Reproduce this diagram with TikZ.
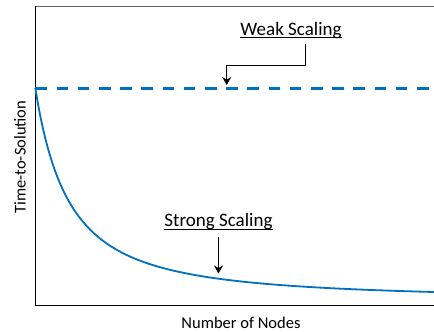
\documentclass[tikz,border=0pt]{standalone}
\usepackage{fontspec}
\setmainfont{Carlito}
\usetikzlibrary{arrows.meta}
\definecolor{plotblue}{HTML}{0070C0}
\definecolor{framegray}{HTML}{606060}
\begin{document}
\begin{tikzpicture}[x=1pt,y=-1pt,
  annot/.style={inner sep=0pt,font=\fontsize{19}{22}\selectfont},
  axlabel/.style={inner sep=0pt,font=\fontsize{16.5}{19}\selectfont},
  pointer/.style={draw=black,line width=0.9pt,-{Stealth[length=8pt,width=9pt]}},
  uline/.style={draw=black,line width=0.8pt}]
\useasboundingbox (0,0) rectangle (434,332);
% frame
\coordinate (tl) at (35.3,6.3);
\coordinate (tr) at (434,6.3);
\coordinate (bl) at (35.3,305.7);
\coordinate (br) at (434,305.7);
\draw[framegray,line width=1.1pt] (tl) -- (tr);
\draw[black,line width=1.1pt] (tl) -- (bl) -- (br);
% weak scaling dashed line
\coordinate (w0) at (35.3,88.3);
\coordinate (w1) at (434,88.3);
\draw[plotblue,line width=3pt,dash pattern=on 11.7pt off 9.5pt] (w0) -- (w1);
% strong scaling curve
\draw[plotblue,line width=1.8pt,line join=round]
  plot[domain=0:399,samples=160,smooth] ({35.3+\x},{300-212/((1+0.0198*\x)^1.5)});
% labels
\node[annot,anchor=base] (weak) at (291,35) {Weak Scaling};
\draw[uline] ([yshift=-2.7pt]weak.base west) -- ([yshift=-2.7pt]weak.base east);
\node[annot,anchor=base] (strong) at (218.5,226.8) {Strong Scaling};
\draw[uline] ([yshift=-3pt]strong.base west) -- ([yshift=-3pt]strong.base east);
\node[axlabel] (xlab) at (241,322.5) {Number of Nodes};
\node[axlabel,rotate=90] (ylab) at (20,157) {Time-to-Solution};
% pointers
\coordinate (wa) at (305,44.3);
\coordinate (wb) at (305,65);
\coordinate (wc) at (226.7,65);
\coordinate (wd) at (226.7,85);
\draw[pointer] (wa) -- (wb) -- (wc) -- (wd);
\coordinate (sa) at (218.5,236.7);
\coordinate (sb) at (218.5,273.5);
\draw[pointer] (sa) -- (sb);
\end{tikzpicture}
\end{document}
